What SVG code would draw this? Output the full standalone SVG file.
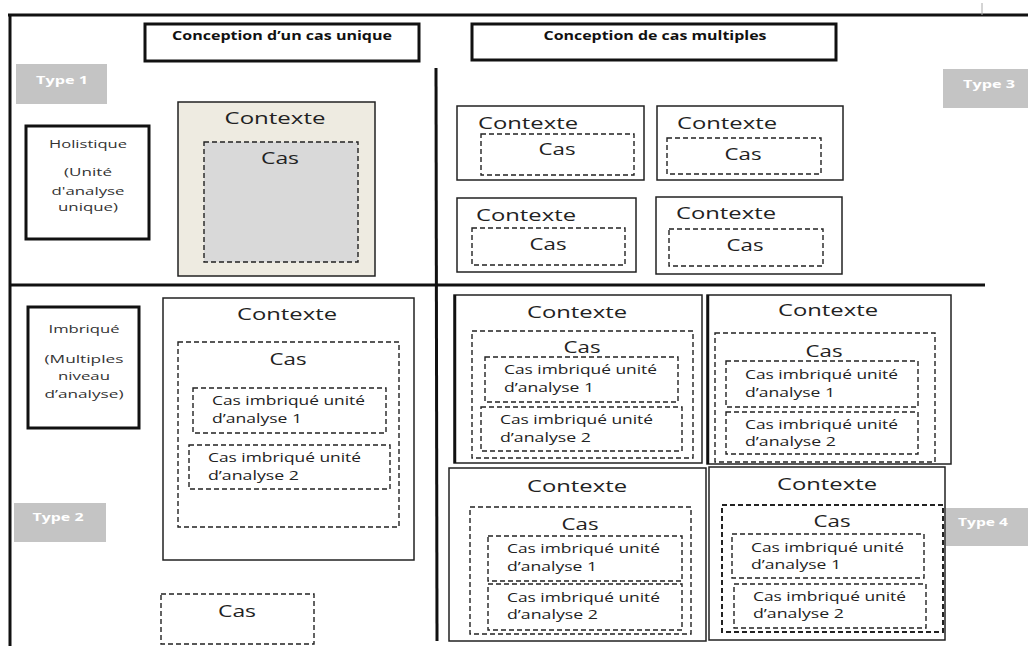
<svg xmlns="http://www.w3.org/2000/svg" width="1028" height="646" viewBox="0 0 1028 646">
<style>
text{font-family:"Open Sans","Liberation Sans",sans-serif;fill:#222}
.title{font-size:12px;font-weight:bold;text-anchor:middle;fill:#111}
.type{font-size:11px;font-weight:bold;text-anchor:middle;fill:#fff}
.tbox{fill:#c4c4c4;stroke:none}
.lbl{font-size:11.5px;text-anchor:middle;fill:#333}
.ctx{font-size:17px}
.cas{font-size:17px;text-anchor:middle}
.sub{font-size:12.5px}
.box{fill:#fff;stroke:#222;stroke-width:1.5}
.thick{fill:#fff;stroke:#111;stroke-width:3}
.dash{fill:none;stroke:#222;stroke-width:1.4;stroke-dasharray:5 3}
.line{stroke:#111;stroke-width:3;fill:none}
</style>
<rect width="1028" height="646" fill="#fff"/>
<g id="frame">
<line class="line" x1="8" y1="15" x2="1028" y2="15" stroke-width="2.5"/>
<line class="line" x1="10" y1="14" x2="10" y2="646"/>
<line class="line" x1="10" y1="285" x2="985" y2="285"/>
<line class="line" x1="436" y1="68" x2="437" y2="641" stroke-width="3.5"/>
<line x1="982" y1="3" x2="982" y2="15" stroke="#aaa" stroke-width="1"/>
</g>
<g id="title1"><rect class="thick" x="145" y="24" width="274" height="37"/><text class="title" x="282" y="40" textLength="220" lengthAdjust="spacingAndGlyphs">Conception d’un cas unique</text></g>
<g id="title2"><rect class="thick" x="472" y="24" width="364" height="36"/><text class="title" x="655" y="40" textLength="223" lengthAdjust="spacingAndGlyphs">Conception de cas multiples</text></g>
<g id="type1"><rect class="tbox" x="16" y="64" width="91" height="40"/><text class="type" x="62" y="84" textLength="52" lengthAdjust="spacingAndGlyphs">Type 1</text></g>
<g id="type3"><rect class="tbox" x="943" y="69" width="85" height="39"/><text class="type" x="989" y="88" textLength="52" lengthAdjust="spacingAndGlyphs">Type 3</text></g>
<g id="type2"><rect class="tbox" x="14" y="503" width="92" height="39"/><text class="type" x="58" y="521" textLength="51" lengthAdjust="spacingAndGlyphs">Type 2</text></g>
<g id="type4"><rect class="tbox" x="946" y="508" width="82" height="38"/><text class="type" x="983" y="526" textLength="50" lengthAdjust="spacingAndGlyphs">Type 4</text></g>
<g id="holistique"><rect class="thick" x="26" y="126" width="123" height="113"/>
<text class="lbl" x="88" y="148" textLength="78" lengthAdjust="spacingAndGlyphs">Holistique</text>
<text class="lbl" x="88" y="176" textLength="48" lengthAdjust="spacingAndGlyphs">(Unité</text>
<text class="lbl" x="88" y="195" textLength="73" lengthAdjust="spacingAndGlyphs">d'analyse</text>
<text class="lbl" x="88" y="211" textLength="60" lengthAdjust="spacingAndGlyphs">unique)</text></g>
<g id="t1-contexte"><rect class="box" x="178" y="102" width="197" height="174" style="fill:#eeebe1"/>
<text class="ctx" x="275" y="124" text-anchor="middle" textLength="101" lengthAdjust="spacingAndGlyphs">Contexte</text>
<rect class="dash" x="204" y="142" width="154" height="120" style="fill:#d9d9d9"/>
<text class="cas" x="280" y="164" textLength="38" lengthAdjust="spacingAndGlyphs">Cas</text></g>
<g id="t3-a"><rect class="box" x="457" y="106" width="187" height="74"/><text class="ctx" x="478" y="129" textLength="100" lengthAdjust="spacingAndGlyphs">Contexte</text><rect class="dash" x="481" y="134" width="153" height="41"/><text class="cas" x="557" y="155" textLength="37" lengthAdjust="spacingAndGlyphs">Cas</text></g>
<g id="t3-b"><rect class="box" x="657" y="106" width="186" height="74"/><text class="ctx" x="677" y="129" textLength="100" lengthAdjust="spacingAndGlyphs">Contexte</text><rect class="dash" x="667" y="138" width="154" height="36"/><text class="cas" x="743" y="160" textLength="37" lengthAdjust="spacingAndGlyphs">Cas</text></g>
<g id="t3-c"><rect class="box" x="457" y="198" width="179" height="74"/><text class="ctx" x="476" y="221" textLength="100" lengthAdjust="spacingAndGlyphs">Contexte</text><rect class="dash" x="472" y="228" width="153" height="37"/><text class="cas" x="548" y="250" textLength="37" lengthAdjust="spacingAndGlyphs">Cas</text></g>
<g id="t3-d"><rect class="box" x="656" y="197" width="186" height="77"/><text class="ctx" x="676" y="219" textLength="100" lengthAdjust="spacingAndGlyphs">Contexte</text><rect class="dash" x="669" y="229" width="154" height="37"/><text class="cas" x="745" y="251" textLength="37" lengthAdjust="spacingAndGlyphs">Cas</text></g>
<g id="imbrique"><rect class="thick" x="28" y="307" width="111" height="121"/>
<text class="lbl" x="84" y="333" textLength="71" lengthAdjust="spacingAndGlyphs">Imbriqué</text>
<text class="lbl" x="84" y="363" textLength="79" lengthAdjust="spacingAndGlyphs">(Multiples</text>
<text class="lbl" x="84" y="380" textLength="52" lengthAdjust="spacingAndGlyphs">niveau</text>
<text class="lbl" x="84" y="398" textLength="79" lengthAdjust="spacingAndGlyphs">d’analyse)</text></g>
<g id="t2-contexte"><rect class="box" x="163" y="298" width="251" height="262"/>
<text class="ctx" x="287" y="320" text-anchor="middle" textLength="100" lengthAdjust="spacingAndGlyphs">Contexte</text>
<rect class="dash" x="178" y="342" width="221" height="185"/>
<text class="cas" x="288" y="365" textLength="37" lengthAdjust="spacingAndGlyphs">Cas</text>
<rect class="dash" x="193" y="388" width="193" height="45"/>
<text class="sub" x="212" y="405" textLength="153" lengthAdjust="spacingAndGlyphs">Cas imbriqué unité</text>
<text class="sub" x="212" y="423" textLength="90" lengthAdjust="spacingAndGlyphs">d’analyse 1</text>
<rect class="dash" x="189" y="445" width="201" height="44"/>
<text class="sub" x="208" y="462" textLength="153" lengthAdjust="spacingAndGlyphs">Cas imbriqué unité</text>
<text class="sub" x="208" y="480" textLength="91" lengthAdjust="spacingAndGlyphs">d’analyse 2</text></g>
<g id="t2-cas"><rect class="dash" x="161" y="594" width="153" height="50"/><text class="cas" x="237" y="617" textLength="38" lengthAdjust="spacingAndGlyphs">Cas</text></g>
<g id="t4-e"><rect class="box" x="454" y="295" width="248" height="168"/><line x1="455" y1="295" x2="455" y2="463" stroke="#111" stroke-width="2.5"/>
<text class="ctx" x="577" y="318" text-anchor="middle" textLength="100" lengthAdjust="spacingAndGlyphs">Contexte</text>
<rect class="dash" x="472" y="331" width="221" height="127"/>
<text class="cas" x="582" y="353" textLength="37" lengthAdjust="spacingAndGlyphs">Cas</text>
<rect class="dash" x="485" y="357" width="193" height="45"/>
<text class="sub" x="504" y="374" textLength="153" lengthAdjust="spacingAndGlyphs">Cas imbriqué unité</text>
<text class="sub" x="504" y="392" textLength="90" lengthAdjust="spacingAndGlyphs">d’analyse 1</text>
<rect class="dash" x="481" y="407" width="201" height="44"/>
<text class="sub" x="500" y="424" textLength="153" lengthAdjust="spacingAndGlyphs">Cas imbriqué unité</text>
<text class="sub" x="500" y="442" textLength="91" lengthAdjust="spacingAndGlyphs">d’analyse 2</text></g>
<g id="t4-f"><rect class="box" x="707" y="295" width="244" height="169"/><line x1="708" y1="295" x2="708" y2="464" stroke="#111" stroke-width="2.5"/>
<text class="ctx" x="828" y="316" text-anchor="middle" textLength="100" lengthAdjust="spacingAndGlyphs">Contexte</text>
<rect class="dash" x="715" y="333" width="220" height="129"/>
<text class="cas" x="824" y="357" textLength="37" lengthAdjust="spacingAndGlyphs">Cas</text>
<rect class="dash" x="726" y="361" width="192" height="46"/>
<text class="sub" x="745" y="379" textLength="153" lengthAdjust="spacingAndGlyphs">Cas imbriqué unité</text>
<text class="sub" x="745" y="397" textLength="90" lengthAdjust="spacingAndGlyphs">d’analyse 1</text>
<rect class="dash" x="726" y="412" width="192" height="42"/>
<text class="sub" x="745" y="429" textLength="153" lengthAdjust="spacingAndGlyphs">Cas imbriqué unité</text>
<text class="sub" x="745" y="446" textLength="91" lengthAdjust="spacingAndGlyphs">d’analyse 2</text></g>
<g id="t4-g"><rect class="box" x="449" y="468" width="257" height="173"/>
<text class="ctx" x="577" y="492" text-anchor="middle" textLength="100" lengthAdjust="spacingAndGlyphs">Contexte</text>
<rect class="dash" x="470" y="507" width="221" height="127"/>
<text class="cas" x="580" y="530" textLength="37" lengthAdjust="spacingAndGlyphs">Cas</text>
<rect class="dash" x="488" y="536" width="194" height="45"/>
<text class="sub" x="507" y="553" textLength="153" lengthAdjust="spacingAndGlyphs">Cas imbriqué unité</text>
<text class="sub" x="507" y="571" textLength="90" lengthAdjust="spacingAndGlyphs">d’analyse 1</text>
<rect class="dash" x="488" y="584" width="194" height="46"/>
<text class="sub" x="507" y="602" textLength="153" lengthAdjust="spacingAndGlyphs">Cas imbriqué unité</text>
<text class="sub" x="507" y="619" textLength="91" lengthAdjust="spacingAndGlyphs">d’analyse 2</text></g>
<g id="t4-h"><rect class="box" x="709" y="467" width="236" height="173"/>
<text class="ctx" x="827" y="490" text-anchor="middle" textLength="100" lengthAdjust="spacingAndGlyphs">Contexte</text>
<rect class="dash" x="722" y="505" width="221" height="127" style="stroke-width:2"/>
<text class="cas" x="832" y="527" textLength="37" lengthAdjust="spacingAndGlyphs">Cas</text>
<rect class="dash" x="732" y="534" width="192" height="44"/>
<text class="sub" x="751" y="552" textLength="153" lengthAdjust="spacingAndGlyphs">Cas imbriqué unité</text>
<text class="sub" x="751" y="569" textLength="90" lengthAdjust="spacingAndGlyphs">d’analyse 1</text>
<rect class="dash" x="734" y="584" width="192" height="44"/>
<text class="sub" x="753" y="601" textLength="153" lengthAdjust="spacingAndGlyphs">Cas imbriqué unité</text>
<text class="sub" x="753" y="618" textLength="91" lengthAdjust="spacingAndGlyphs">d’analyse 2</text></g>
<g id="connectors"></g>
</svg>
